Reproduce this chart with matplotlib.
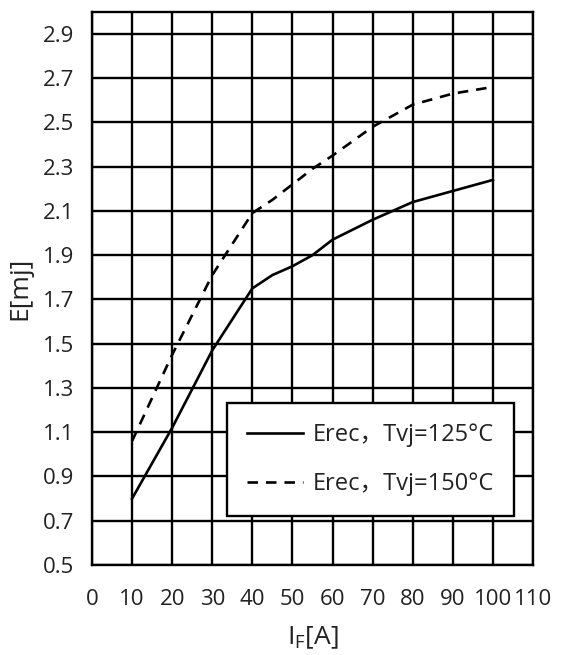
import numpy as np
import matplotlib.pyplot as plt

# datos
i_f = [10, 20, 30, 40, 45, 50, 55, 60, 70, 80, 90, 100]
erec_125 = [0.80, 1.12, 1.47, 1.75, 1.81, 1.85, 1.90, 1.97, 2.06, 2.14, 2.19, 2.24]
erec_150 = [1.06, 1.45, 1.81, 2.09, 2.15, 2.22, 2.29, 2.35, 2.48, 2.58, 2.63, 2.66]

lab_125 = 'Erec，Tvj=125°C'
lab_150 = 'Erec，Tvj=150°C'

xticks = np.arange(0, 111, 10)
yticks = [0.5, 0.7, 0.9, 1.1, 1.3, 1.5, 1.7, 1.9, 2.1, 2.3, 2.5, 2.7, 2.9]

plt.rcParams['font.family'] = ['Open Sans', 'Noto Sans CJK SC', 'DejaVu Sans']

fig = plt.figure(figsize=(5.66, 6.55), dpi=100)
ax = fig.add_axes([0.1625, 0.1374, 0.7792, 0.8447])

ax.plot(i_f, erec_125, color='k', lw=1.9, label=lab_125)
ax.plot(i_f, erec_150, color='k', lw=1.9, ls=(0, (4, 3)), label=lab_150)

ax.set_xlim(0, 110)
ax.set_ylim(0.5, 3.0)
ax.set_xticks(xticks)
ax.set_yticks(yticks)
ax.set_yticklabels(['{:.1f}'.format(v) for v in yticks])
ax.grid(True, color='k', lw=1.7)
ax.set_axisbelow(True)
for s in ax.spines.values():
    s.set_linewidth(1.7)
    s.set_color('k')
ax.tick_params(axis='both', length=0, labelsize=16, colors='#222222')
ax.tick_params(axis='x', pad=17)
ax.tick_params(axis='y', pad=13)

ax.set_xlabel('I$_\\mathregular{F}$[A]', fontsize=19, color='#222222', labelpad=11)
ax.set_ylabel('E[mj]', fontsize=19, color='#222222', labelpad=7)

leg = ax.legend(loc='center', bbox_to_anchor=(0.6315, 0.1907), fontsize=17,
                handlelength=2.4, handletextpad=0.4, labelspacing=1.05,
                borderpad=0.85, fancybox=False, framealpha=1, edgecolor='k')
leg.get_frame().set_linewidth(1.7)
for t in leg.get_texts():
    t.set_color('#222222')

plt.savefig('out.png', dpi=100)
plt.close()
